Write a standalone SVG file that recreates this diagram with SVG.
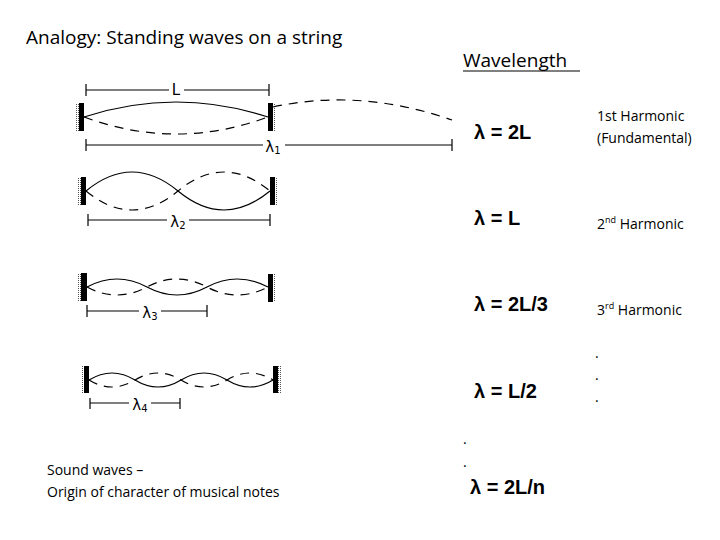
<svg xmlns="http://www.w3.org/2000/svg" width="720" height="540" viewBox="0 0 720 540">
<defs>
<pattern id="dots" width="2" height="2" patternUnits="userSpaceOnUse"><rect width="1" height="1" fill="#555"/></pattern>
</defs>
<style>
.t{font-family:"Open Sans","Liberation Sans",sans-serif;fill:#000}
.lam{font-family:"Liberation Sans",sans-serif;font-weight:bold;font-size:20px}
.s{fill:none;stroke:#000;stroke-width:1.2}
.d{fill:none;stroke:#000;stroke-width:1.2;stroke-dasharray:9,7}
.dim{fill:none;stroke:#000;stroke-width:1.2}
.w{fill:#000}
.sym{font-family:"DejaVu Sans",sans-serif;font-size:15px;fill:#000}
</style>
<rect width="720" height="540" fill="#fff"/>
<text class="t" x="26" y="44" font-size="19">Analogy: Standing waves on a string</text>
<text class="t" x="463" y="67" font-size="19">Wavelength</text>
<line x1="463" y1="71" x2="580" y2="71" stroke="#000" stroke-width="1.2"/>

<g id="walls">
<rect x="76" y="103" width="3" height="28" fill="url(#dots)"/><rect class="w" x="79" y="103" width="5" height="28"/>
<rect class="w" x="268" y="103" width="5" height="28"/><rect x="273" y="103" width="3" height="28" fill="url(#dots)"/>
<rect x="78" y="177" width="3" height="28" fill="url(#dots)"/><rect class="w" x="81" y="177" width="5" height="28"/>
<rect class="w" x="270" y="177" width="5" height="28"/><rect x="275" y="177" width="3" height="28" fill="url(#dots)"/>
<rect x="78" y="273" width="3" height="28" fill="url(#dots)"/><rect class="w" x="81" y="273" width="6" height="28"/>
<rect class="w" x="268" y="274" width="5" height="28"/><rect x="273" y="274" width="3" height="28" fill="url(#dots)"/>
<rect x="81" y="366" width="3" height="27" fill="url(#dots)"/><rect class="w" x="84" y="366" width="5" height="27"/>
<rect class="w" x="273" y="366" width="5" height="27"/><rect x="278" y="366" width="3" height="27" fill="url(#dots)"/>
</g>

<g id="waves">
<path class="s" d="M84,117 Q176,87 268,117"/>
<path class="d" d="M84,117 Q176,151 268,117"/>
<path class="d" d="M273,107 Q360,88 452,120" stroke-dasharray="4,6"/>
<path class="s" d="M86,191 Q132,153 178,191 Q224,229 270,191"/>
<path class="d" d="M86,191 Q132,229 178,191 Q224,153 270,191"/>
<path class="s" d="M87,287 Q117,271 147,287 Q177,303 207,287 Q237,271 268,287"/>
<path class="d" d="M87,287 Q117,303 147,287 Q177,271 207,287 Q237,303 268,287"/>
<path class="s" d="M89,380 Q112,366 135,380 Q158,394 181,380 Q204,366 227,380 Q250,394 273,380"/>
<path class="d" d="M89,380 Q112,394 135,380 Q158,366 181,380 Q204,394 227,380 Q250,366 273,380" stroke-dasharray="7,6"/>
</g>

<g id="dimensions">
<path class="dim" d="M86,84 V96 M86,90 H169 M184,90 H269 M269,84 V96"/>
<text class="sym" x="176" y="95" text-anchor="middle">L</text>
<path class="dim" d="M86,139 V151 M86,145 H263 M285,145 H452 M452,139 V151"/>
<text class="sym" x="273" y="152" text-anchor="middle">λ<tspan font-size="10" dy="2">1</tspan></text>
<path class="dim" d="M88,214 V226 M88,220 H167 M189,220 H270 M270,214 V226"/>
<text class="sym" x="178" y="227" text-anchor="middle">λ<tspan font-size="10" dy="2">2</tspan></text>
<path class="dim" d="M87,305 V317 M87,311 H139 M161,311 H207 M207,305 V317"/>
<text class="sym" x="150" y="318" text-anchor="middle">λ<tspan font-size="10" dy="2">3</tspan></text>
<path class="dim" d="M90,398 V409 M90,403 H129 M151,403 H180 M180,398 V409"/>
<text class="sym" x="140" y="410" text-anchor="middle">λ<tspan font-size="10" dy="2">4</tspan></text>
</g>

<g id="formulas">
<text class="lam" x="474" y="139">λ = 2L</text>
<text class="lam" x="474" y="225">λ = L</text>
<text class="lam" x="474" y="311">λ = 2L/3</text>
<text class="lam" x="474" y="398">λ = L/2</text>
<text class="lam" x="470" y="494">λ = 2L/n</text>
<text class="t" x="463" y="444" font-size="14">.</text>
<text class="t" x="463" y="467" font-size="14">.</text>
</g>

<g id="harmonics">
<text class="t" x="597" y="121" font-size="14">1st Harmonic</text>
<text class="t" x="597" y="143" font-size="14">(Fundamental)</text>
<text class="t" x="597" y="229" font-size="14">2<tspan font-size="9" dy="-6">nd</tspan><tspan dy="6"> Harmonic</tspan></text>
<text class="t" x="597" y="315" font-size="14">3<tspan font-size="9" dy="-6">rd</tspan><tspan dy="6"> Harmonic</tspan></text>
<text class="t" x="595" y="358" font-size="14">.</text>
<text class="t" x="595" y="380" font-size="14">.</text>
<text class="t" x="595" y="402" font-size="14">.</text>
</g>

<text class="t" x="47" y="475" font-size="14">Sound waves –</text>
<text class="t" x="47" y="497" font-size="14">Origin of character of musical notes</text>
</svg>
